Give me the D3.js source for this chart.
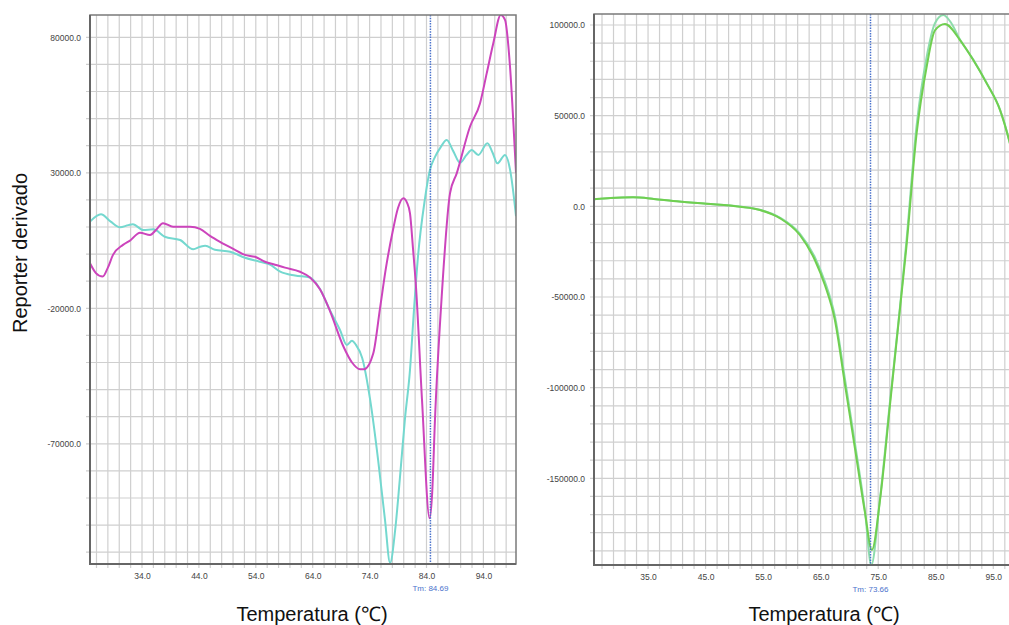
<!DOCTYPE html>
<html>
<head>
<meta charset="utf-8">
<script src="https://cdn.jsdelivr.net/npm/d3@7"></script>
<style>
body { margin: 0; background: #fff; }
svg { display: block; }
</style>
</head>
<body>
<svg id="chart" width="1009" height="625"></svg>
<script>
/* Left panel: derivative reporter vs temperature, two samples [°C, value] */
const leftCyan = [
  [24.86, 12000], [26.79, 14700], [28.5, 12000], [30.13, 9900], [31.6, 10700], [32.4, 11000],
  [34.2, 8900], [36.0, 9150], [38.0, 6400], [40.7, 5200], [43.0, 1800], [44.2, 2700],
  [45.1, 3100], [46.8, 1600], [49.5, 850], [52.1, -1350], [54.7, -2800], [56.5, -3900],
  [58.3, -6500], [60.9, -7900], [63.5, -8600], [65.3, -13000], [67.0, -20600], [68.8, -28000],
  [70.0, -33500], [70.9, -32000], [71.6, -33500], [72.7, -38300], [74.1, -53800], [75.5, -76000],
  [76.7, -98000], [77.6, -114000], [78.5, -101700], [79.3, -83300], [80.2, -61100], [81.1, -42700],
  [81.8, -20600], [82.5, -1000], [83.7, 20000], [84.6, 31000], [85.5, 35900], [86.5, 39500],
  [87.55, 42100], [88.7, 38000], [89.9, 33700], [91.0, 36500], [91.95, 38400], [93.1, 36600],
  [94.7, 40900], [95.6, 37500], [96.45, 33500], [97.8, 36600], [98.7, 31000], [99.55, 17500],
  [99.73, 14000]
]
const leftMagenta = [
  [24.86, -3400], [25.9, -7000], [27.09, -8300], [28.0, -5000], [28.9, -300], [30.66, 3400],
  [31.89, 5000], [33.65, 7900], [35.41, 7050], [36.5, 9000], [37.69, 11400], [39.45, 10100],
  [42.44, 10100], [44.19, 9300], [45.95, 6700], [47.71, 4500], [50.34, 1600], [52.1, -300],
  [53.86, -1000], [55.62, -2800], [57.37, -3900], [59.13, -5000], [61.77, -6500], [63.53, -8600],
  [65.28, -13000], [67.04, -21000], [69.38, -34000], [70.91, -40000], [72.32, -42500], [73.02, -42500],
  [74.65, -36600], [75.83, -20000], [76.88, -5000], [78.11, 8900], [78.99, 17000], [79.92, 20600],
  [80.57, 19000], [81.1, 15000], [81.63, 2000], [82.15, -12000], [83.21, -53800], [84.55, -97500],
  [85.0, -88000], [85.49, -61000], [86.67, -15700], [88.13, 22400], [89.31, 29800], [91.64, 47000],
  [93.4, 55600], [94.58, 66700], [95.74, 77800], [97.04, 88200], [97.8, 86400], [98.68, 69100],
  [99.55, 37200], [99.73, 30000]
]
const leftTm = 84.69
const leftXTicks = [34, 44, 54, 64, 74, 84, 94]
const leftYTicks = [80000, 30000, -20000, -70000]

/* Right panel: two replicate wells */
const rightMint = [
  [25.61, 3860], [28.5, 4600], [32.39, 5000], [36.0, 4100], [39.35, 2950], [45.16, 1450],
  [50.95, -150], [54.43, -1900], [57.9, -6200], [61.38, -15000], [63.99, -28000], [65.73, -41500],
  [67.47, -60500], [69.21, -95000], [70.95, -130500], [72.69, -168000], [73.8, -197800], [75.25, -163000],
  [77.0, -109000], [78.8, -55000], [79.85, -21000], [81.65, 44000], [83.4, 82000], [84.86, 101000],
  [86.3, 105500], [87.5, 102000], [89.21, 92000], [91.52, 80900], [93.85, 68000], [96.17, 53300],
  [97.73, 36800], [98.25, 30000]
]
const rightLime = [
  [25.61, 3860], [28.5, 4600], [32.39, 4960], [36.0, 4100], [39.35, 2920], [45.16, 1430],
  [50.95, -200], [54.43, -2000], [57.9, -6500], [61.38, -15800], [63.99, -29600], [65.73, -43400],
  [67.47, -62700], [69.21, -98000], [70.95, -133300], [72.69, -168600], [73.9, -189500], [75.36, -160800],
  [77.1, -107800], [78.84, -54800], [79.88, -23000], [81.68, 40300], [83.42, 77000], [84.86, 97000],
  [86.6, 100500], [89.21, 91700], [91.52, 80700], [93.85, 67800], [96.17, 53100], [97.73, 36600],
  [98.25, 30000]
]
const rightTm = 73.66
const rightXTicks = [35, 45, 55, 65, 75, 85, 95]
const rightYTicks = [100000, 50000, 0, -50000, -100000, -150000]

/* Styling */
const font = "'Liberation Sans', Arial, sans-serif"
const gridColor = "#cfcfcf"
const frameColor = "#7a7a7a"
const tickTextColor = "#444"
const tmColor = "#4a72cc"

const svg = d3.select("#chart")

/** Draw one melt-curve panel */
function renderMeltPanel(p) {
  const x = d3.scaleLinear(p.xDomain, [p.left, p.right])
  const y = d3.scaleLinear(p.yDomain, [p.bottom, p.top])
  const panel = svg.append("g")

  panel.append("clipPath")
  .attr("id", p.id + "-clip")
  .append("rect")
  .attr("x", p.left)
  .attr("y", p.top)
  .attr("width", p.right - p.left)
  .attr("height", p.bottom - p.top)

  /* grid, with the little tick stubs poking out of the frame */
  panel.append("g")
  .selectAll("line")
  .data(d3.range(p.xGrid[0], p.xGrid[1] + 0.01, p.xGrid[2]))
  .join("line")
  .attr("x1", d => x(d))
  .attr("x2", d => x(d))
  .attr("y1", p.top)
  .attr("y2", p.bottom + 4)
  .attr("stroke", gridColor)
  .attr("stroke-width", 1.2)

  panel.append("g")
  .selectAll("line")
  .data(d3.range(p.yGrid[0], p.yGrid[1] + 1, p.yGrid[2]))
  .join("line")
  .attr("x1", p.left - 4)
  .attr("x2", p.right)
  .attr("y1", d => y(d))
  .attr("y2", d => y(d))
  .attr("stroke", gridColor)
  .attr("stroke-width", 1.2)

  /* tick labels */
  panel.append("g")
  .attr("transform", `translate(0, ${p.bottom})`)
  .call(d3.axisBottom(x).tickValues(p.xTicks).tickSize(0).tickPadding(9).tickFormat(d => d.toFixed(1)))
  .call(g => g.select(".domain").remove())
  .call(g => g.selectAll(".tick text")
    .attr("font-family", font)
    .attr("font-size", 8.5)
    .attr("fill", tickTextColor))

  panel.append("g")
  .attr("transform", `translate(${p.left}, 0)`)
  .call(d3.axisLeft(y).tickValues(p.yTicks).tickSize(0).tickPadding(9).tickFormat(d => d.toFixed(1)))
  .call(g => g.select(".domain").remove())
  .call(g => g.selectAll(".tick text")
    .attr("font-family", font)
    .attr("font-size", 8.5)
    .attr("fill", tickTextColor))

  /* curves */
  const line = d3.line()
  .x(d => x(d[0]))
  .y(d => y(d[1]))
  .curve(d3.curveMonotoneX)

  panel.append("g")
  .selectAll("path")
  .data(p.series)
  .join("path")
  .attr("clip-path", `url(#${p.id}-clip)`)
  .attr("fill", "none")
  .attr("stroke", d => d.color)
  .attr("stroke-width", 2)
  .attr("stroke-linejoin", "round")
  .attr("d", d => line(d.values))

  /* Tm marker */
  panel.append("line")
  .attr("x1", x(p.tm))
  .attr("x2", x(p.tm))
  .attr("y1", p.top)
  .attr("y2", p.bottom)
  .attr("stroke", tmColor)
  .attr("stroke-width", 1.5)
  .attr("stroke-dasharray", "1.5,1.2")

  panel.append("text")
  .attr("x", x(p.tm))
  .attr("y", p.bottom + 27)
  .attr("text-anchor", "middle")
  .attr("font-family", font)
  .attr("font-size", 8)
  .attr("fill", tmColor)
  .text("Tm: " + p.tm.toFixed(2))

  /* frame */
  panel.append("rect")
  .attr("x", p.left)
  .attr("y", p.top)
  .attr("width", p.right - p.left)
  .attr("height", p.bottom - p.top)
  .attr("fill", "none")
  .attr("stroke", frameColor)
  .attr("stroke-width", 1.5)

  panel.append("path")
  .attr("d", `M${p.left},${p.top}V${p.bottom}H${p.right}`)
  .attr("fill", "none")
  .attr("stroke", "#666")
  .attr("stroke-width", 2)

  /* axis title */
  panel.append("text")
  .attr("x", p.titleX)
  .attr("y", 621)
  .attr("text-anchor", "middle")
  .attr("font-family", font)
  .attr("font-size", 20)
  .attr("fill", "#111")
  .text("Temperatura (℃)")
}

renderMeltPanel({
  id: "left",
  left: 90, right: 516, top: 15, bottom: 564,
  xDomain: [24.86, 99.73],
  yDomain: [-114350, 88230],
  xGrid: [26, 98, 2],
  yGrid: [-110000, 80000, 10000],
  xTicks: leftXTicks,
  yTicks: leftYTicks,
  tm: leftTm,
  titleX: 312,
  series: [
    { values: leftCyan, color: "#74d8cf" },
    { values: leftMagenta, color: "#cc44bc" }
  ]
})

renderMeltPanel({
  id: "right",
  left: 594, right: 1012, top: 14, bottom: 565,
  xDomain: [25.61, 98.25],
  yDomain: [-197800, 106070],
  xGrid: [27, 97, 2],
  yGrid: [-190000, 100000, 10000],
  xTicks: rightXTicks,
  yTicks: rightYTicks,
  tm: rightTm,
  titleX: 824,
  series: [
    { values: rightMint, color: "#8edcac" },
    { values: rightLime, color: "#70cf50" }
  ]
})

/* shared y title */
svg.append("text")
.attr("transform", "translate(27, 253) rotate(-90)")
.attr("text-anchor", "middle")
.attr("font-family", font)
.attr("font-size", 20)
.attr("fill", "#111")
.text("Reporter derivado")
</script>
</body>
</html>
